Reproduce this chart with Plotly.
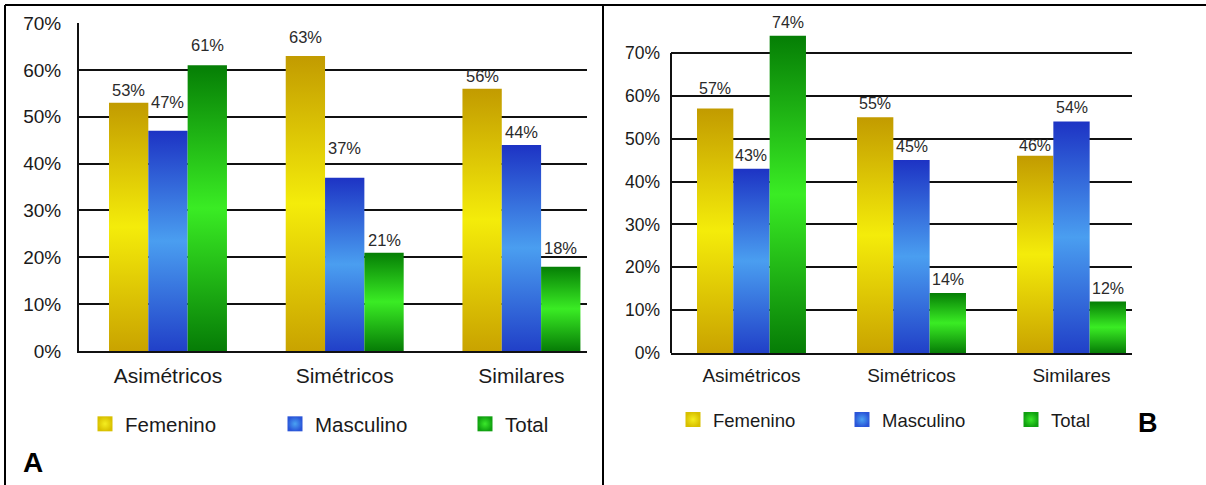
import plotly.graph_objects as go

# ---- data -------------------------------------------------------------
categories = ["Asimétricos", "Simétricos", "Similares"]
series_names = ["Femenino", "Masculino", "Total"]

femenino_a = [53, 63, 56]
masculino_a = [47, 37, 44]
total_a = [61, 21, 18]

femenino_b = [57, 55, 46]
masculino_b = [43, 45, 54]
total_b = [74, 14, 12]

y_ticks = [0, 10, 20, 30, 40, 50, 60, 70]
y_tick_labels = ["0%", "10%", "20%", "30%", "40%", "50%", "60%", "70%"]

# ---- styling ----------------------------------------------------------
W, H = 1206, 485
FONT = "Liberation Sans, Arial, Helvetica, sans-serif"

# vertical shading per series: (bottom, middle, top)
shades = {
    "Femenino": ["#c9a300", "#f4ec0a", "#c29b00"],
    "Masculino": ["#2140c8", "#4a9ef0", "#1d33c4"],
    "Total": ["#067c06", "#3aec24", "#057e05"],
}
legend_colors = {
    "Femenino": ("#d8c000", "#f5ee20"),
    "Masculino": ("#2a55d8", "#4aa2f2"),
    "Total": ("#10a010", "#3ae82a"),
}

# extra lift (px) for value labels that sit higher/lower above their bars
extra_lift = {
    ("A", "Masculino", 0): 16, ("A", "Masculino", 1): 17,
    ("A", "Total", 0): 7, ("A", "Femenino", 1): 6, ("A", "Total", 2): 6,
    ("B", "Femenino", 0): 7, ("B", "Femenino", 2): -3,
}


def px_x(v):
    return v / W


def px_y(v):
    return 1 - v / H


fig = go.Figure()


def add_panel(panel, values_by_series, xa, ya, bar_w, label_size, label_lift,
              legend_id):
    offsets = [-bar_w, 0.0, bar_w]
    for s_idx, (name, vals) in enumerate(zip(series_names, values_by_series)):
        bot, mid, top = shades[name]
        for c_idx, v in enumerate(vals):
            cx = c_idx + offsets[s_idx]
            x0, x1 = cx - bar_w / 2, cx + bar_w / 2
            fig.add_trace(go.Scatter(
                x=[x0, x1, x1, x0, x0],
                y=[0, 0, v, v, 0],
                mode="lines",
                fill="toself",
                line=dict(width=0),
                fillgradient=dict(type="vertical", start=0, stop=v,
                                  colorscale=[[0, bot], [0.5, mid], [1, top]]),
                showlegend=False, hoverinfo="skip",
                xaxis=xa, yaxis=ya,
            ))
            # value label above the bar
            fig.add_annotation(
                x=cx, y=v, xref=xa, yref=ya, text=f"{v}%",
                showarrow=False, xanchor="center", yanchor="bottom",
                yshift=label_lift + extra_lift.get((panel, name, c_idx), 0),
                font=dict(family=FONT, size=label_size, color="#2a2a2a"),
            )
        # legend entry
        edge, centre = legend_colors[name]
        fig.add_trace(go.Scatter(
            x=[None], y=[None], mode="markers", name=name,
            marker=dict(symbol="square", size=15, color=edge,
                        gradient=dict(type="radial", color=centre),
                        line=dict(width=0)),
            legend=legend_id, xaxis=xa, yaxis=ya,
        ))


add_panel("A", [femenino_a, masculino_a, total_a], "x", "y", 0.2225, 16.5, 2,
          "legend")
add_panel("B", [femenino_b, masculino_b, total_b], "x2", "y2", 0.227, 16, 3,
          "legend2")

grid = dict(showgrid=True, gridcolor="#111111", gridwidth=2,
            zeroline=False, tickvals=y_ticks, ticktext=y_tick_labels,
            ticks="", fixedrange=True, automargin=False)
xcommon = dict(tickvals=[0, 1, 2], ticktext=categories, showgrid=False,
               zeroline=False, showline=True, linecolor="#111111",
               linewidth=2, ticks="", fixedrange=True, automargin=False)

fig.update_layout(
    width=W, height=H,
    margin=dict(l=0, r=0, t=0, b=0, autoexpand=False),
    paper_bgcolor="white", plot_bgcolor="white",
    font=dict(family=FONT, color="#1a1a1a"),
    xaxis=dict(**xcommon, domain=[px_x(79), px_x(587)],
               range=[-0.5035, 2.371], anchor="y",
               tickfont=dict(size=21, color="#1a1a1a"), ticklabelstandoff=5),
    yaxis=dict(**grid, domain=[px_y(351), px_y(23)], range=[0, 70.02],
               anchor="x", showline=True, linecolor="#111111", linewidth=2,
               tickfont=dict(size=19, color="#1a1a1a"), ticklabelstandoff=12),
    xaxis2=dict(**xcommon, domain=[px_x(671), px_x(1132)],
                range=[-0.503, 2.378], anchor="y2",
                tickfont=dict(size=19, color="#1a1a1a"), ticklabelstandoff=4),
    yaxis2=dict(**grid, domain=[px_y(353), px_y(10)], range=[0, 80],
                anchor="x2", showline=False,
                tickfont=dict(size=17.5, color="#1a1a1a"), ticklabelstandoff=10),
    legend=dict(orientation="h", x=px_x(85), xanchor="left",
                y=px_y(424), yanchor="middle",
                entrywidth=145, entrywidthmode="pixels",
                font=dict(family=FONT, size=20.5, color="#1a1a1a"),
                bgcolor="rgba(0,0,0,0)", itemclick=False, itemdoubleclick=False),
    legend2=dict(orientation="h", x=px_x(673), xanchor="left",
                 y=px_y(420), yanchor="middle",
                 entrywidth=124, entrywidthmode="pixels",
                 font=dict(family=FONT, size=18.5, color="#1a1a1a"),
                 bgcolor="rgba(0,0,0,0)", itemclick=False, itemdoubleclick=False),
    showlegend=True,
)

# y-axis line of panel B stops at the top gridline
fig.add_shape(type="line", xref="x2 domain", yref="y2", x0=0, x1=0, y0=0, y1=70,
              line=dict(color="#111111", width=2))

# table frame around the two panels
frame = dict(color="#000000", width=2)
fig.add_shape(type="line", xref="paper", yref="paper",
              x0=px_x(5), x1=1, y0=px_y(5), y1=px_y(5), line=frame)
fig.add_shape(type="line", xref="paper", yref="paper",
              x0=px_x(5), x1=px_x(5), y0=px_y(5), y1=0, line=frame)
fig.add_shape(type="line", xref="paper", yref="paper",
              x0=px_x(603), x1=px_x(603), y0=px_y(5), y1=0, line=frame)

# panel letters
fig.add_annotation(text="<b>A</b>", xref="paper", yref="paper",
                   x=px_x(21), y=px_y(462), xanchor="left", yanchor="middle",
                   showarrow=False, font=dict(family=FONT, size=28, color="#000"))
fig.add_annotation(text="<b>B</b>", xref="paper", yref="paper",
                   x=px_x(1136), y=px_y(423), xanchor="left", yanchor="middle",
                   showarrow=False, font=dict(family=FONT, size=27, color="#000"))

fig.write_html("out.html", config={"displayModeBar": False})
